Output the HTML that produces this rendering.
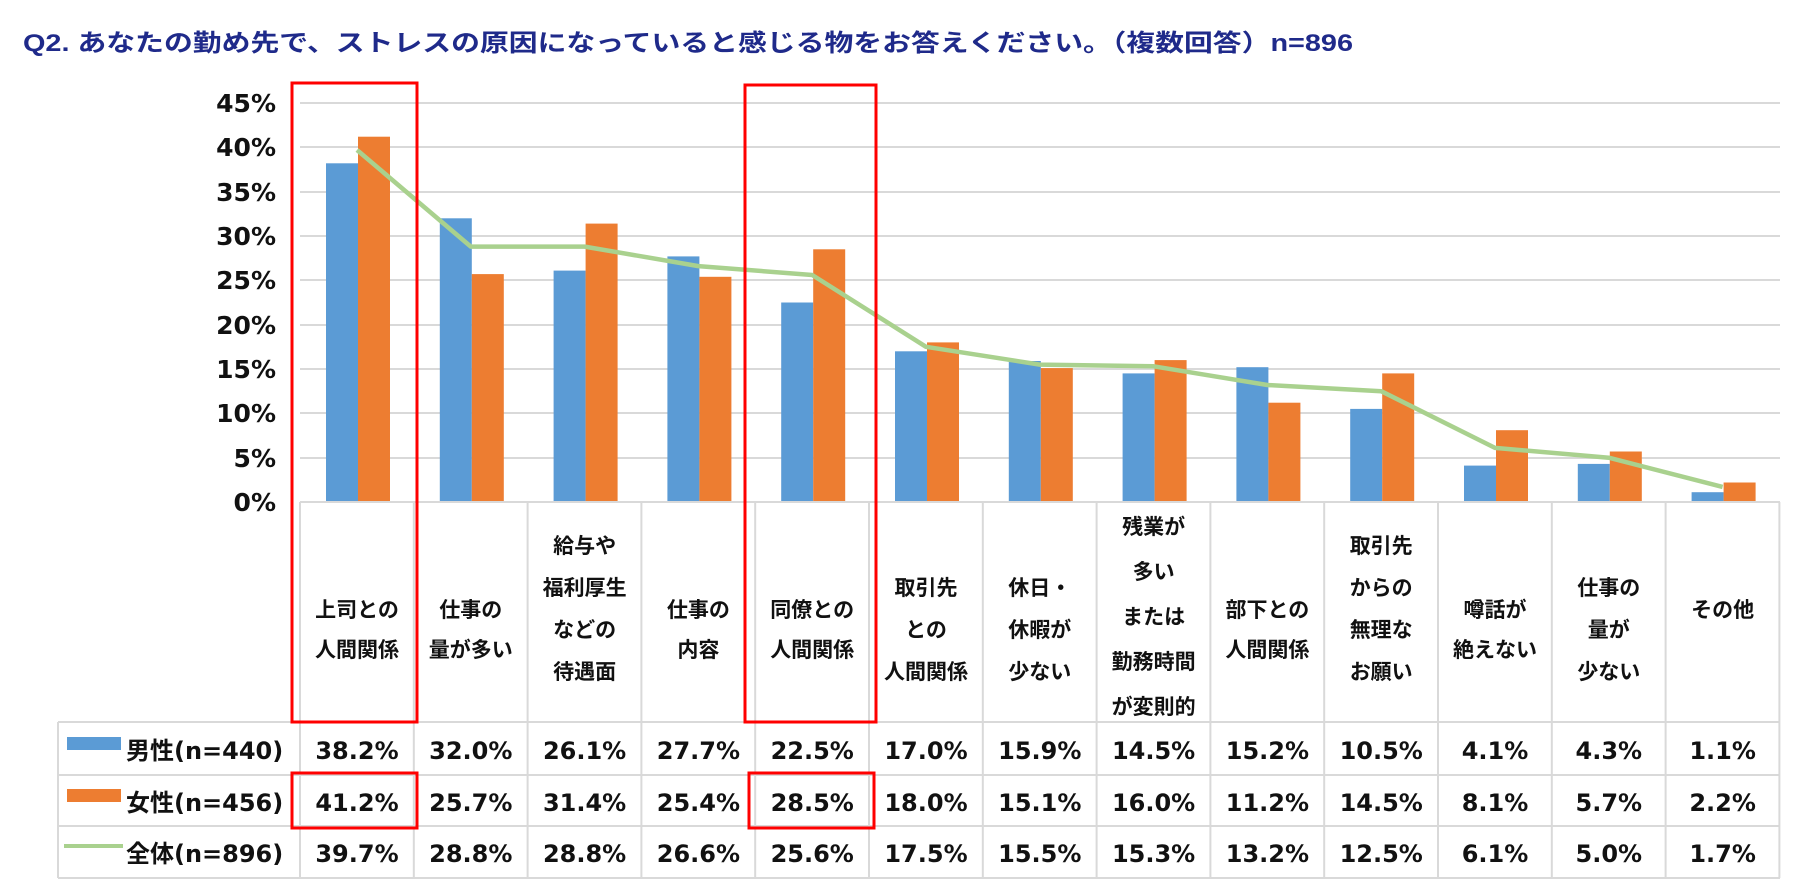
<!DOCTYPE html>
<html><head><meta charset="utf-8"><style>
html,body{margin:0;padding:0;background:#fff;}
svg{display:block;font-family:"Liberation Sans","Noto Sans CJK JP",sans-serif;}
.dv{font-family:"DejaVu Sans","Noto Sans CJK JP",sans-serif;}
</style></head><body>
<svg width="1802" height="886" viewBox="0 0 1802 886" xmlns="http://www.w3.org/2000/svg">
<text x="23" y="51" font-size="24" font-weight="bold" fill="#1f2a8a" textLength="1330" lengthAdjust="spacingAndGlyphs">Q2. あなたの勤め先で、ストレスの原因になっていると感じる物をお答えください。（複数回答）n=896</text>
<g stroke="#d9d9d9" stroke-width="2">
<line x1="300" y1="103" x2="1780" y2="103"/><line x1="300" y1="147" x2="1780" y2="147"/>
<line x1="300" y1="192" x2="1780" y2="192"/><line x1="300" y1="236" x2="1780" y2="236"/>
<line x1="300" y1="280" x2="1780" y2="280"/><line x1="300" y1="325" x2="1780" y2="325"/>
<line x1="300" y1="369" x2="1780" y2="369"/><line x1="300" y1="413" x2="1780" y2="413"/>
<line x1="300" y1="458" x2="1780" y2="458"/>
</g>
<g class="dv" font-size="25" font-weight="bold" text-anchor="end" fill="#111">
<text x="276" y="112">45%</text><text x="276" y="156">40%</text><text x="276" y="201">35%</text>
<text x="276" y="245">30%</text><text x="276" y="289">25%</text><text x="276" y="334">20%</text>
<text x="276" y="378">15%</text><text x="276" y="422">10%</text><text x="276" y="467">5%</text>
<text x="276" y="511">0%</text>
</g>
<g transform="translate(0,502) scale(1,-1)">
<g fill="#5b9bd5">
<rect x="326" y="0" width="32" height="338.7"/><rect x="439.8" y="0" width="32" height="283.7"/>
<rect x="553.6" y="0" width="32" height="231.4"/><rect x="667.4" y="0" width="32" height="245.6"/>
<rect x="781.2" y="0" width="32" height="199.5"/><rect x="895" y="0" width="32" height="150.7"/>
<rect x="1008.8" y="0" width="32" height="141"/><rect x="1122.6" y="0" width="32" height="128.6"/>
<rect x="1236.4" y="0" width="32" height="134.8"/><rect x="1350.2" y="0" width="32" height="93.1"/>
<rect x="1464" y="0" width="32" height="36.4"/><rect x="1577.8" y="0" width="32" height="38.1"/>
<rect x="1691.6" y="0" width="32" height="9.8"/>
</g>
<g fill="#ed7d31">
<rect x="358" y="0" width="32" height="365.3"/><rect x="471.8" y="0" width="32" height="227.9"/>
<rect x="585.6" y="0" width="32" height="278.4"/><rect x="699.4" y="0" width="32" height="225.2"/>
<rect x="813.2" y="0" width="32" height="252.7"/><rect x="927" y="0" width="32" height="159.6"/>
<rect x="1040.8" y="0" width="32" height="133.9"/><rect x="1154.6" y="0" width="32" height="141.9"/>
<rect x="1268.4" y="0" width="32" height="99.3"/><rect x="1382.2" y="0" width="32" height="128.6"/>
<rect x="1496" y="0" width="32" height="71.8"/><rect x="1609.8" y="0" width="32" height="50.5"/>
<rect x="1723.6" y="0" width="32" height="19.5"/>
</g>
</g>
<polyline fill="none" stroke="#a9d18e" stroke-width="4.5" stroke-linejoin="round" points="357,150 470.8,246.6 584.6,246.6 698.4,266.1 812.2,275 926,346.8 1039.8,364.6 1153.6,366.3 1267.4,385 1381.2,391.2 1495,447.9 1608.8,457.7 1722.6,486.9"/>
<g stroke="#d9d9d9" stroke-width="2">
<line x1="300" y1="502" x2="1780" y2="502"/>
<line x1="58" y1="722" x2="1780" y2="722"/><line x1="58" y1="775" x2="1780" y2="775"/>
<line x1="58" y1="826" x2="1780" y2="826"/><line x1="58" y1="878" x2="1780" y2="878"/>
<line x1="58" y1="722" x2="58" y2="878"/>
<line x1="300" y1="502" x2="300" y2="878"/><line x1="413.8" y1="502" x2="413.8" y2="878"/>
<line x1="527.6" y1="502" x2="527.6" y2="878"/><line x1="641.4" y1="502" x2="641.4" y2="878"/>
<line x1="755.2" y1="502" x2="755.2" y2="878"/><line x1="869" y1="502" x2="869" y2="878"/>
<line x1="982.8" y1="502" x2="982.8" y2="878"/><line x1="1096.6" y1="502" x2="1096.6" y2="878"/>
<line x1="1210.4" y1="502" x2="1210.4" y2="878"/><line x1="1324.2" y1="502" x2="1324.2" y2="878"/>
<line x1="1438" y1="502" x2="1438" y2="878"/><line x1="1551.8" y1="502" x2="1551.8" y2="878"/>
<line x1="1665.6" y1="502" x2="1665.6" y2="878"/><line x1="1779.4" y1="502" x2="1779.4" y2="878"/>
</g>
<g font-size="21" font-weight="bold" text-anchor="middle" fill="#111">
<text x="357" y="617">上司との</text><text x="357" y="657">人間関係</text>
<text x="470.8" y="617">仕事の</text><text x="470.8" y="657">量が多い</text>
<text x="584.6" y="553">給与や</text><text x="584.6" y="595">福利厚生</text><text x="584.6" y="637">などの</text><text x="584.6" y="679">待遇面</text>
<text x="698.4" y="617">仕事の</text><text x="698.4" y="657">内容</text>
<text x="812.2" y="617">同僚との</text><text x="812.2" y="657">人間関係</text>
<text x="926" y="595">取引先</text><text x="926" y="637">との</text><text x="926" y="679">人間関係</text>
<text x="1039.8" y="595">休日・</text><text x="1039.8" y="637">休暇が</text><text x="1039.8" y="679">少ない</text>
<text x="1153.6" y="534">残業が</text><text x="1153.6" y="579">多い</text><text x="1153.6" y="624">または</text><text x="1153.6" y="669">勤務時間</text><text x="1153.6" y="714">が変則的</text>
<text x="1267.4" y="617">部下との</text><text x="1267.4" y="657">人間関係</text>
<text x="1381.2" y="553">取引先</text><text x="1381.2" y="595">からの</text><text x="1381.2" y="637">無理な</text><text x="1381.2" y="679">お願い</text>
<text x="1495" y="617">噂話が</text><text x="1495" y="657">絶えない</text>
<text x="1608.8" y="595">仕事の</text><text x="1608.8" y="637">量が</text><text x="1608.8" y="679">少ない</text>
<text x="1722.6" y="617">その他</text>
</g>
<rect x="67" y="737" width="54" height="13" fill="#5b9bd5"/>
<rect x="67" y="789" width="54" height="13" fill="#ed7d31"/>
<rect x="64" y="844" width="59" height="4" fill="#a9d18e"/>
<g class="dv" font-size="24" font-weight="bold" fill="#111">
<text x="126" y="759">男性(n=440)</text>
<text x="126" y="811">女性(n=456)</text>
<text x="126" y="862">全体(n=896)</text>
</g>
<g class="dv" font-size="24" font-weight="bold" text-anchor="middle" fill="#111">
<text x="357" y="759">38.2%</text><text x="470.8" y="759">32.0%</text><text x="584.6" y="759">26.1%</text><text x="698.4" y="759">27.7%</text><text x="812.2" y="759">22.5%</text><text x="926" y="759">17.0%</text><text x="1039.8" y="759">15.9%</text><text x="1153.6" y="759">14.5%</text><text x="1267.4" y="759">15.2%</text><text x="1381.2" y="759">10.5%</text><text x="1495" y="759">4.1%</text><text x="1608.8" y="759">4.3%</text><text x="1722.6" y="759">1.1%</text>
<text x="357" y="811">41.2%</text><text x="470.8" y="811">25.7%</text><text x="584.6" y="811">31.4%</text><text x="698.4" y="811">25.4%</text><text x="812.2" y="811">28.5%</text><text x="926" y="811">18.0%</text><text x="1039.8" y="811">15.1%</text><text x="1153.6" y="811">16.0%</text><text x="1267.4" y="811">11.2%</text><text x="1381.2" y="811">14.5%</text><text x="1495" y="811">8.1%</text><text x="1608.8" y="811">5.7%</text><text x="1722.6" y="811">2.2%</text>
<text x="357" y="862">39.7%</text><text x="470.8" y="862">28.8%</text><text x="584.6" y="862">28.8%</text><text x="698.4" y="862">26.6%</text><text x="812.2" y="862">25.6%</text><text x="926" y="862">17.5%</text><text x="1039.8" y="862">15.5%</text><text x="1153.6" y="862">15.3%</text><text x="1267.4" y="862">13.2%</text><text x="1381.2" y="862">12.5%</text><text x="1495" y="862">6.1%</text><text x="1608.8" y="862">5.0%</text><text x="1722.6" y="862">1.7%</text>
</g>
<g fill="none" stroke="#ff0000" stroke-width="3">
<rect x="292" y="83" width="125" height="639"/>
<rect x="745" y="85" width="131" height="637"/>
<rect x="292" y="773" width="125" height="55"/>
<rect x="749" y="773" width="125" height="55"/>
</g>
</svg>
</body></html>
